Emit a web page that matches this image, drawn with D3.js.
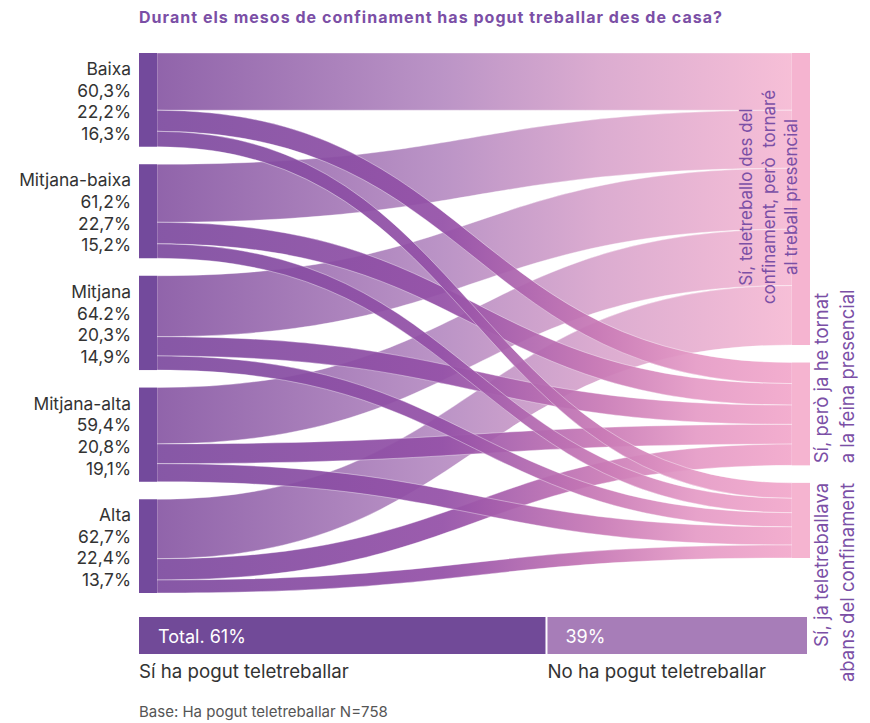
<!DOCTYPE html>
<html>
<head>
<meta charset="utf-8">
<script src="https://cdn.jsdelivr.net/npm/d3@7"></script>
<style>
  html, body { margin: 0; padding: 0; background: #fff; }
  svg { display: block; }
  text { font-family: Inter, "Open Sans", sans-serif; }
</style>
</head>
<body>
<svg id="chart" width="870" height="723"></svg>
<script>
// ---------- DATA ----------
const title = "Durant els mesos de confinament has pogut treballar des de casa?";
const sources = ["Baixa", "Mitjana-baixa", "Mitjana", "Mitjana-alta", "Alta"];
const teletreballoTornare = [60.3, 61.2, 64.2, 59.4, 62.7];
const jaHeTornat = [22.2, 22.7, 20.3, 20.8, 22.4];
const jaTeletreballava = [16.3, 15.2, 14.9, 19.1, 13.7];
const pctLabels = [
  ["60,3%", "22,2%", "16,3%"],
  ["61,2%", "22,7%", "15,2%"],
  ["64.2%", "20,3%", "14,9%"],
  ["59,4%", "20,8%", "19,1%"],
  ["62,7%", "22,4%", "13,7%"]
];
const targetLines = [
  ["Sí, teletreballo des del", "confinament, però  tornaré", "al treball presencial"],
  ["Sí, però ja he tornat", "a la feina presencial"],
  ["Sí, ja teletreballava", "abans del confinament"]
];
const totalCategories = ["Sí ha pogut teletreballar", "No ha pogut teletreballar"];
const totalValues = [61, 39];
const totalTexts = ["Total. 61%", "39%"];
const baseNote = "Base: Ha pogut teletreballar N=758";

// ---------- LAYOUT ----------
const svg = d3.select("#chart");
const series = [teletreballoTornare, jaHeTornat, jaTeletreballava];
const nodeW = 18;
const xLeft = 139, xRight = 792;
const yTop = 53, yBottom = 593, gap = 17.5;

const srcTotals = sources.map((s, i) => d3.sum(series, v => v[i]));
const tgtTotals = series.map(v => d3.sum(v));
const grand = d3.sum(srcTotals);
const k = (yBottom - yTop - gap * (sources.length - 1)) / grand;
const h = d3.scaleLinear().domain([0, grand]).range([0, grand * k]);

// source nodes
let yAcc = yTop;
const srcNodes = sources.map((name, i) => {
  const n = { name, y0: yAcc, y1: yAcc + h(srcTotals[i]) };
  yAcc = n.y1 + gap;
  return n;
});
yAcc = yTop;
const tgtNodes = series.map((v, j) => {
  const n = { y0: yAcc, y1: yAcc + h(tgtTotals[j]) };
  yAcc = n.y1 + gap;
  return n;
});

// links
const links = [];
const srcOff = srcNodes.map(n => n.y0);
const tgtOff = tgtNodes.map(n => n.y0);
sources.forEach((s, i) => {
  series.forEach((v, j) => {
    const w = h(v[i]);
    links.push({ i, j, w, sy0: srcOff[i], sy1: srcOff[i] + w });
    srcOff[i] += w;
  });
});
series.forEach((v, j) => {
  sources.forEach((s, i) => {
    const l = links.find(d => d.i === i && d.j === j);
    l.ty0 = tgtOff[j]; l.ty1 = tgtOff[j] + l.w;
    tgtOff[j] += l.w;
  });
});

// gradients
const defs = svg.append("defs");
const gradStops = [
  [["0", "#8858a4"], ["0.45", "#b68cc2"], ["0.7", "#d9a6cd"], ["1", "#f6bad4"]],
  [["0", "#7d4b9f"], ["0.45", "#9450a7"], ["0.7", "#c97ab6"], ["0.85", "#e59bc6"], ["1", "#f2a8cb"]]
];
gradStops.forEach((stops, gi) => {
  const g = defs.append("linearGradient")
    .attr("id", "lg" + gi)
    .attr("gradientUnits", "userSpaceOnUse")
    .attr("x1", xLeft + nodeW).attr("x2", xRight).attr("y1", 0).attr("y2", 0);
  stops.forEach(s => g.append("stop").attr("offset", s[0]).attr("stop-color", s[1]));
});

const x0 = xLeft + nodeW, x1 = xRight, xm = (x0 + x1) / 2;
function band(d) {
  return `M${x0},${d.sy0} C${xm},${d.sy0} ${xm},${d.ty0} ${x1},${d.ty0}` +
         ` L${x1},${d.ty1} C${xm},${d.ty1} ${xm},${d.sy1} ${x0},${d.sy1} Z`;
}
const linkOrder = links.slice().sort((a, b) => a.j - b.j);
svg.append("g").selectAll("path").data(linkOrder).join("path")
  .attr("d", band)
  .attr("fill", d => d.j === 0 ? "url(#lg0)" : "url(#lg1)")
  .attr("fill-opacity", 0.93)
  .attr("stroke", "#fff").attr("stroke-width", 0.7).attr("stroke-opacity", 0.55);

// nodes
svg.append("g").selectAll("rect").data(srcNodes).join("rect")
  .attr("x", xLeft).attr("width", nodeW)
  .attr("y", d => d.y0).attr("height", d => d.y1 - d.y0)
  .attr("fill", "#734a9c");
svg.append("g").selectAll("rect").data(tgtNodes).join("rect")
  .attr("x", xRight).attr("width", nodeW)
  .attr("y", d => d.y0).attr("height", d => d.y1 - d.y0)
  .attr("fill", "#f5b4d0");

// left labels
const lh = 21.6;
srcNodes.forEach((n, i) => {
  const c = (n.y0 + n.y1) / 2 + 1.5;
  const lines = [n.name].concat(pctLabels[i]);
  svg.append("g").selectAll("text").data(lines).join("text")
    .attr("text-anchor", "end")
    .attr("font-size", 17.4).attr("fill", "#333")
    .attr("x", xLeft - 8)
    .attr("y", (d, li) => c + (li - 1.5) * lh + 6)
    .text(d => d);
});

// right labels
const purple = "#7b4fa6";
function vtext(x, y, anchor, str, size) {
  svg.append("text")
    .attr("transform", `translate(${x},${y}) rotate(-90)`)
    .attr("text-anchor", anchor)
    .attr("font-size", size).attr("fill", purple)
    .style("white-space", "pre")
    .text(str);
}
const t0 = tgtNodes[0], t1 = tgtNodes[1], t2 = tgtNodes[2];
const c0 = (t0.y0 + t0.y1) / 2 - 2;
targetLines[0].forEach((s, li) => vtext(752 + li * 22.5, c0, "middle", s, 17));
targetLines[1].forEach((s, li) => vtext(828 + li * 25.5, t1.y1 - 2, "start", s, 18.5));
targetLines[2].forEach((s, li) => vtext(828 + li * 25.5, t2.y0, "end", s, 18.5));

// bottom totals bar
const xb = d3.scaleLinear().domain([0, 100]).range([139, 807]);
const starts = d3.cumsum([0].concat(totalValues)).slice(0, totalValues.length);
const barColors = ["#714a98", "#a77db8"];
svg.append("g").selectAll("rect").data(totalValues).join("rect")
  .attr("x", (d, i) => xb(starts[i]) + (i ? 1 : 0))
  .attr("width", (d, i) => xb(d) - xb(0) - 1)
  .attr("y", 617).attr("height", 37)
  .attr("fill", (d, i) => barColors[i]);
svg.append("g").selectAll("text").data(totalTexts).join("text")
  .attr("x", (d, i) => xb(starts[i]) + 19)
  .attr("y", 643)
  .attr("font-size", 18).attr("fill", "#fff")
  .text(d => d);
svg.append("g").selectAll("text").data(totalCategories).join("text")
  .attr("x", (d, i) => xb(starts[i]) + (i ? 1 : 0))
  .attr("y", 678)
  .attr("font-size", 18.7).attr("fill", "#333")
  .text(d => d);

// title & note
svg.append("text").attr("x", 139).attr("y", 23)
  .attr("font-size", 16).attr("font-weight", 700).attr("fill", purple)
  .attr("textLength", 583).attr("lengthAdjust", "spacing")
  .text(title);
svg.append("text").attr("x", 139).attr("y", 717)
  .attr("font-size", 15).attr("fill", "#555")
  .text(baseNote);
</script>
</body>
</html>
